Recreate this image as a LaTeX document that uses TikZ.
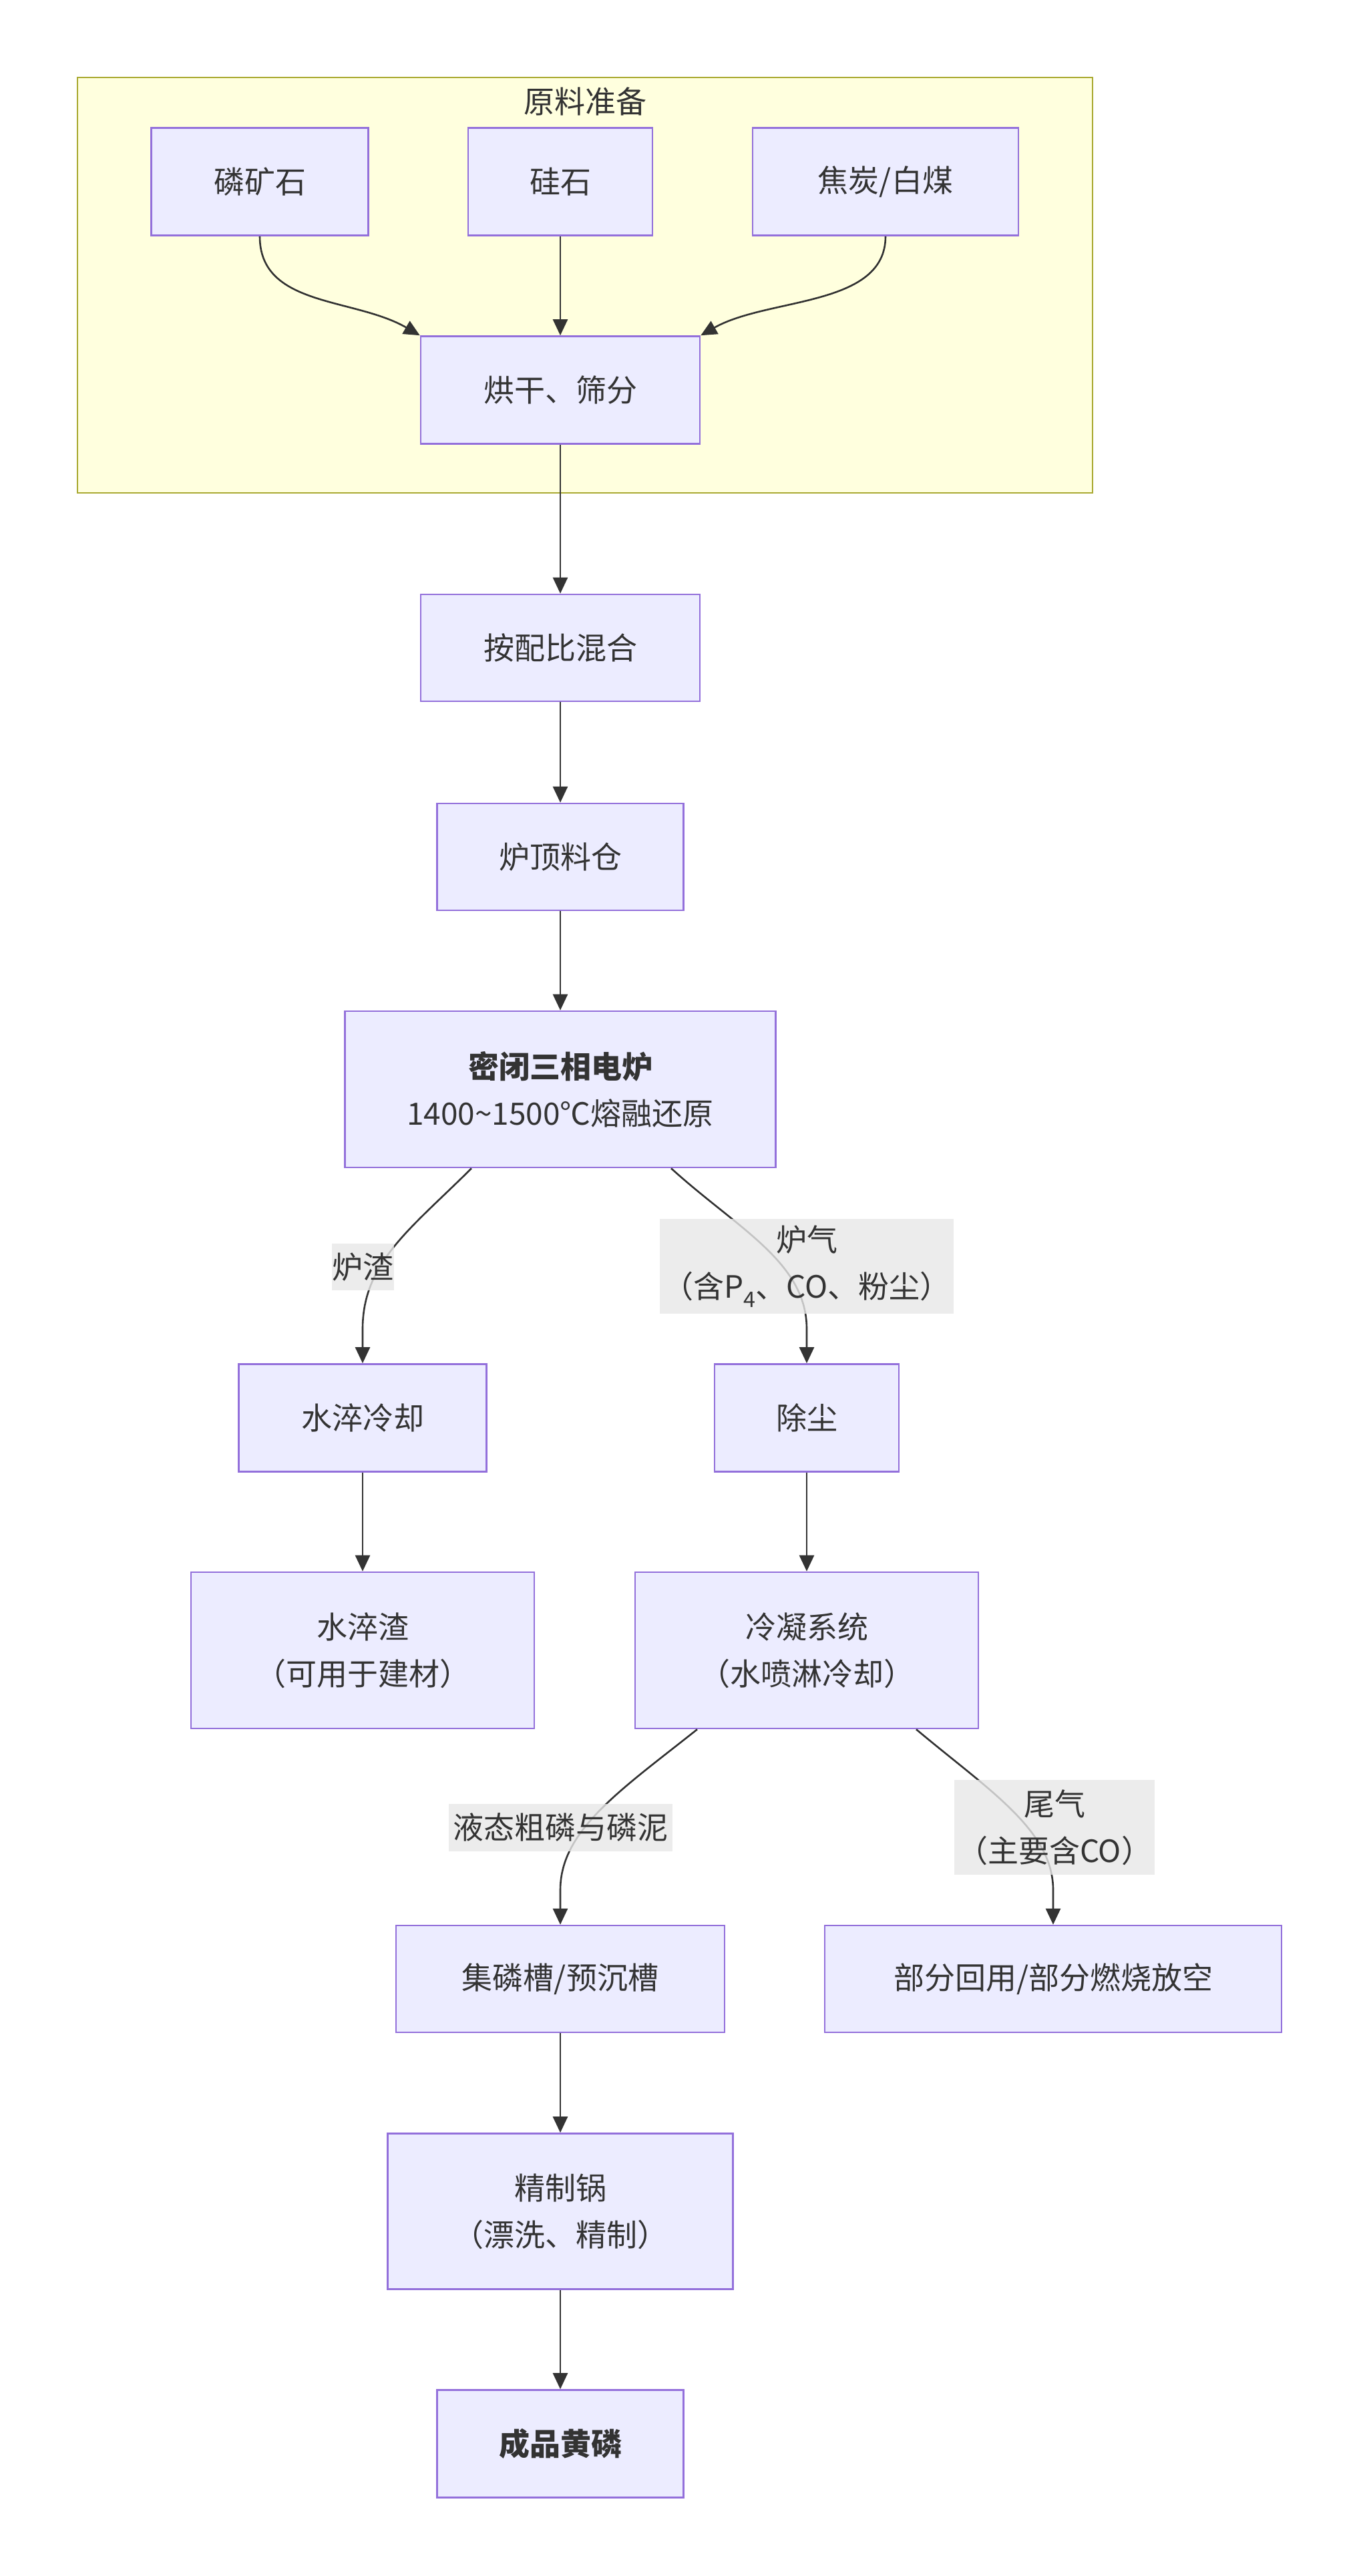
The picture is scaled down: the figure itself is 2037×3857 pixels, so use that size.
\documentclass[tikz,border=0pt]{standalone}
\usepackage{fontspec}
\setmainfont{Noto Sans CJK SC}
\usetikzlibrary{arrows.meta}
\definecolor{nodefill}{HTML}{ECECFF}
\definecolor{nodeline}{HTML}{9370DB}
\definecolor{clfill}{HTML}{FFFFDE}
\definecolor{clline}{HTML}{AAAA33}
\definecolor{edgec}{HTML}{333333}
\definecolor{lblfill}{HTML}{E8E8E8}
\begin{document}
\begin{tikzpicture}[x=1pt,y=-1pt,
  txt/.style={font=\fontsize{46}{70}\selectfont, text=edgec, align=center},
  box/.style={txt, draw=nodeline, fill=nodefill, line width=2.6pt, inner sep=0pt},
  flow/.style={draw=edgec, line width=2.6pt, -{Triangle[length=24pt 0,width=22pt 0]}},
  lbl/.style={txt, fill=lblfill, fill opacity=0.8, text opacity=1, inner sep=0pt}
]
\useasboundingbox (0,0) rectangle (2037,3857);
\fill[white] (0,0) rectangle (2037,3857);

% cluster
\node[draw=clline, fill=clfill, line width=2.6pt, minimum width=1520pt, minimum height=622pt, inner sep=0pt] (cl) at (876,427) {};
\node[txt] (cltitle) at (876,152) {原料准备};

% nodes
\node[box, minimum width=325pt, minimum height=161pt] (A) at (389,272) {磷矿石};
\node[box, minimum width=276pt, minimum height=161pt] (B) at (839,272) {硅石};
\node[box, minimum width=398pt, minimum height=161pt] (C) at (1326,272) {焦炭/白煤};
\node[box, minimum width=418pt, minimum height=161pt] (D) at (839,584) {烘干、筛分};
\node[box, minimum width=418pt, minimum height=160pt] (E) at (839,970) {按配比混合};
\node[box, minimum width=369pt, minimum height=160pt] (F) at (839,1283) {炉顶料仓};
\node[box, minimum width=645pt, minimum height=234pt] (G) at (839,1631) {\bfseries 密闭三相电炉\\1400\textasciitilde1500℃熔融还原};
\node[box, minimum width=371pt, minimum height=161pt] (H) at (543,2123) {水淬冷却};
\node[box, minimum width=276pt, minimum height=161pt] (I) at (1208,2123) {除尘};
\node[box, minimum width=514pt, minimum height=234pt] (J) at (543,2471) {水淬渣\\（可用于建材）};
\node[box, minimum width=514pt, minimum height=234pt] (K) at (1208,2471) {冷凝系统\\（水喷淋冷却）};
\node[box, minimum width=492pt, minimum height=160pt] (L) at (839,2963) {集磷槽/预沉槽};
\node[box, minimum width=684pt, minimum height=160pt] (M) at (1577,2963) {部分回用/部分燃烧放空};
\node[box, minimum width=517pt, minimum height=233pt] (N) at (839,3311) {精制锅\\（漂洗、精制）};
\node[box, minimum width=369pt, minimum height=161pt] (O) at (839,3659) {\bfseries 成品黄磷};

% edges
\draw[flow] (A.south) .. controls (389,460) and (530,445) .. (D.north west);
\draw[flow] (B) -- (D);
\draw[flow] (C.south) .. controls (1326,460) and (1150,445) .. (D.north east);
\draw[flow] (D) -- (E);
\draw[flow] (E) -- (F);
\draw[flow] (F) -- (G);
\draw[flow] ([xshift=-133pt]G.south) .. controls (615,1840) and (543,1890) .. (543,1990) -- (H.north);
\draw[flow] ([xshift=166pt]G.south) .. controls (1105,1840) and (1208,1890) .. (1208,1990) -- (I.north);
\draw[flow] (H) -- (J);
\draw[flow] (I) -- (K);
\draw[flow] ([xshift=-164pt]K.south) .. controls (930,2680) and (839,2740) .. (839,2830) -- (L.north);
\draw[flow] ([xshift=164pt]K.south) .. controls (1480,2680) and (1577,2740) .. (1577,2830) -- (M.north);
\draw[flow] (L) -- (N);
\draw[flow] (N) -- (O);

% edge labels
\node[lbl, minimum width=93pt, minimum height=70pt] (l1) at (543,1897) {炉渣};
\node[lbl, minimum width=440pt, minimum height=142pt] (l2) at (1208,1896) {炉气\\（含P\textsubscript{4}、CO、粉尘）};
\node[lbl, minimum width=335pt, minimum height=71pt] (l3) at (839,2736) {液态粗磷与磷泥};
\node[lbl, minimum width=300pt, minimum height=142pt] (l4) at (1579,2736) {尾气\\（主要含CO）};
\end{tikzpicture}
\end{document}
